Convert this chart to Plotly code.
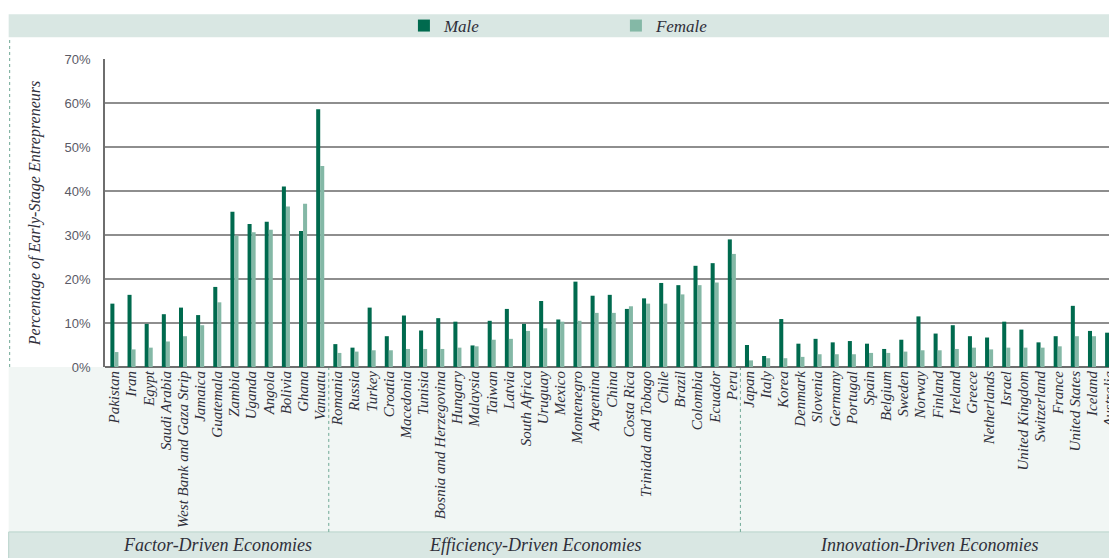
import plotly.graph_objects as go

factor = ["Pakistan", "Iran", "Egypt", "Saudi Arabia", "West Bank and Gaza Strip", "Jamaica",
          "Guatemala", "Zambia", "Uganda", "Angola", "Bolivia", "Ghana", "Vanuatu"]
efficiency = ["Romania", "Russia", "Turkey", "Croatia", "Macedonia", "Tunisia",
              "Bosnia and Herzegovina", "Hungary", "Malaysia", "Taiwan", "Latvia", "South Africa",
              "Uruguay", "Mexico", "Montenegro", "Argentina", "China", "Costa Rica",
              "Trinidad and Tobago", "Chile", "Brazil", "Colombia", "Ecuador", "Peru"]
innovation = ["Japan", "Italy", "Korea", "Denmark", "Slovenia", "Germany", "Portugal", "Spain",
              "Belgium", "Sweden", "Norway", "Finland", "Ireland", "Greece", "Netherlands", "Israel",
              "United Kingdom", "Switzerland", "France", "United States", "Iceland", "Australia"]

male_factor = [14.4, 16.4, 9.8, 12.0, 13.5, 11.8, 18.2, 35.3, 32.5, 33.0, 41.0, 30.9, 58.6]
female_factor = [3.4, 4.0, 4.4, 5.8, 7.0, 9.5, 14.7, 29.9, 30.6, 31.2, 36.5, 37.1, 45.7]
male_efficiency = [5.2, 4.4, 13.5, 7.0, 11.7, 8.3, 11.1, 10.3, 4.9, 10.5, 13.2, 9.8,
                   15.0, 10.8, 19.4, 16.2, 16.4, 13.2, 15.6, 19.1, 18.6, 23.0, 23.6, 29.0]
female_efficiency = [3.2, 3.5, 3.8, 3.8, 4.1, 4.1, 4.1, 4.4, 4.7, 6.2, 6.4, 8.2,
                     8.8, 10.3, 10.5, 12.3, 12.3, 13.8, 14.4, 14.4, 16.5, 18.6, 19.2, 25.7]
male_innovation = [5.0, 2.5, 10.9, 5.3, 6.4, 5.6, 5.9, 5.3, 4.1, 6.2, 11.5, 7.6, 9.5, 7.0,
                   6.7, 10.3, 8.5, 5.6, 7.0, 13.9, 8.2, 7.8]
female_innovation = [1.5, 2.0, 2.0, 2.3, 2.9, 2.9, 2.9, 3.2, 3.2, 3.5, 3.8, 3.8, 4.1, 4.4,
                     4.0, 4.4, 4.4, 4.4, 4.7, 7.0, 7.0, 5.0]

group_names = ["Factor-Driven Economies", "Efficiency-Driven Economies", "Innovation-Driven Economies"]
y_ticks = [0, 10, 20, 30, 40, 50, 60, 70]

countries = factor + efficiency + innovation
male = male_factor + male_efficiency + male_innovation
female = female_factor + female_efficiency + female_innovation

MALE_C = "#006a4e"
FEMALE_C = "#84b8a6"
TXT = "#2f2f3a"
SERIF = "Liberation Serif"

fig = go.Figure()
fig.add_trace(go.Bar(x=countries, y=male, name="Male", marker=dict(color=MALE_C, line_width=0)))
fig.add_trace(go.Bar(x=countries, y=female, name="Female", marker=dict(color=FEMALE_C, line_width=0)))

# page has an 8px body margin; figure coordinates below are page coordinates minus 8
W, H = 1109, 550
L, R, T, B = 97, 0, 49, 191
plot_h = H - T - B
plot_w = W - L - R


def py(pix):
    return (H - B - pix) / plot_h


def px(pix):
    return (pix - L) / plot_w


shapes = []
# legend band
shapes.append(dict(type="rect", xref="paper", yref="paper", x0=px(0), x1=1.0, y0=py(27), y1=py(4),
                   fillcolor="#d9e7e3", line_width=0, layer="below"))
# label area
shapes.append(dict(type="rect", xref="paper", yref="paper", x0=px(0), x1=1.0, y0=py(525), y1=py(359),
                   fillcolor="#f1f6f4", line_width=0, layer="below"))
# bottom band
shapes.append(dict(type="rect", xref="paper", yref="paper", x0=px(0), x1=1.0, y0=py(552), y1=py(525),
                   fillcolor="#d9e7e3", line=dict(color="#b9d4cb", width=1), layer="below"))
# left dotted line
shapes.append(dict(type="line", xref="paper", yref="paper", x0=px(1), x1=px(1), y0=py(359), y1=py(27),
                   line=dict(color="#6fa895", width=1, dash="dot"), layer="below"))
# group dividers
n1 = len(factor)
n2 = len(factor) + len(efficiency)
for xd in [n1 - 0.5, n2 - 0.5]:
    shapes.append(dict(type="line", xref="x", yref="paper", x0=xd, x1=xd, y0=py(525), y1=0,
                       line=dict(color="#6fa895", width=1, dash="dot"), layer="below"))

annotations = []
centers = [(-0.5 + n1 - 0.5) / 2, (n1 - 0.5 + n2 - 0.5) / 2, (n2 - 0.5 + len(countries) - 0.5) / 2]
for name, c in zip(group_names, centers):
    annotations.append(dict(text=name, x=c, xref="x", y=py(538), yref="paper", showarrow=False,
                            xanchor="center", yanchor="middle",
                            font=dict(family=SERIF, size=18, color=TXT, style="italic")))

fig.update_layout(
    width=W, height=H,
    margin=dict(l=L, r=R, t=T, b=B),
    paper_bgcolor="white", plot_bgcolor="white",
    barmode="group", bargap=0.53, bargroupgap=0,
    shapes=shapes, annotations=annotations,
    showlegend=True,
    legend=dict(orientation="h", x=px(398), xanchor="left", y=py(15.5), yanchor="middle",
                bgcolor="rgba(0,0,0,0)", entrywidth=167, entrywidthmode="pixels",
                font=dict(family=SERIF, size=17, color=TXT, style="italic")),
    xaxis=dict(range=[-0.548, 58.05], type="category", showgrid=False, tickangle=-90,
               tickmode="array", tickvals=countries, ticktext=countries,
               tickfont=dict(family=SERIF, size=15, color=TXT, style="italic"),
               showline=False, ticks=""),
    yaxis=dict(range=[0, 70], tickvals=y_ticks, ticktext=[f"{v}%" for v in y_ticks],
               showgrid=True, gridcolor="#8e8e8e", gridwidth=1.5,
               zeroline=True, zerolinecolor="#6e6e6e", zerolinewidth=2,
               showline=True, linecolor="#6e6e6e", linewidth=1.5,
               ticks="", ticklabelstandoff=10,
               tickfont=dict(family="Liberation Sans", size=13, color="#5a5a66"),
               title=dict(text="Percentage of Early-Stage Entrepreneurs", standoff=20,
                          font=dict(family=SERIF, size=16, color=TXT, style="italic"))),
)

fig.write_html("out.html")
